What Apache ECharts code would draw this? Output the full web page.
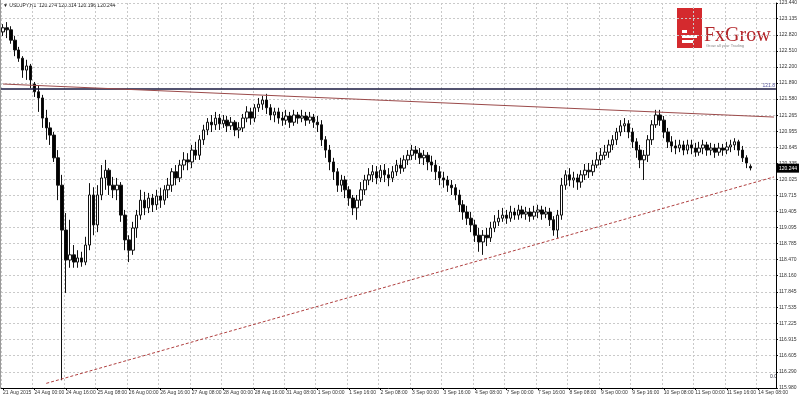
<!DOCTYPE html>
<html><head><meta charset="utf-8">
<script src="https://cdn.jsdelivr.net/npm/echarts@6.0.0/dist/echarts.min.js"></script>
<style>html,body{margin:0;padding:0;background:#fff}#c{width:800px;height:398px}</style>
</head><body><div id="c"></div><script>
const titleText = '\u25BC USDJPY,H1  120.274 120.314 120.196 120.244';
const xTickLabels = ['21 Aug 2015','24 Aug 00:00','24 Aug 16:00','25 Aug 08:00','26 Aug 00:00','26 Aug 16:00','27 Aug 08:00','28 Aug 00:00','28 Aug 16:00','31 Aug 08:00','1 Sep 00:00','1 Sep 16:00','2 Sep 08:00','3 Sep 00:00','3 Sep 16:00','4 Sep 08:00','7 Sep 00:00','7 Sep 16:00','8 Sep 08:00','9 Sep 00:00','9 Sep 16:00','10 Sep 08:00','11 Sep 00:00','11 Sep 16:00','14 Sep 08:00'];
const yTickLabels = ['115.980','116.290','116.605','116.915','117.225','117.535','117.845','118.160','118.470','118.785','119.095','119.405','119.715','120.025','120.335','120.645','120.955','121.265','121.580','121.890','122.200','122.510','122.820','123.135','123.440'];
const opens = [122.88,122.96,122.92,122.72,122.53,122.37,122.14,122.22,121.87,121.72,
121.60,121.21,121.02,120.88,120.44,119.91,119.04,118.46,118.56,118.42,
118.50,118.42,118.75,119.72,119.14,119.72,120.05,120.20,119.91,119.82,
119.91,119.33,118.85,118.65,119.08,119.33,119.62,119.47,119.66,119.53,
119.70,119.62,119.82,119.91,120.17,120.05,120.30,120.40,120.36,120.59,
120.49,120.79,120.98,121.13,121.08,121.21,121.10,121.17,121.06,121.13,
120.98,121.02,121.21,121.33,121.21,121.41,121.48,121.56,121.41,121.27,
121.33,121.21,121.17,121.25,121.13,121.27,121.21,121.25,121.17,121.23,
121.13,121.08,120.79,120.59,120.36,120.17,119.91,120.01,119.82,119.66,
119.47,119.62,119.82,120.01,120.11,120.17,120.05,120.20,120.11,120.05,
120.17,120.30,120.24,120.40,120.49,120.59,120.53,120.44,120.49,120.36,
120.30,120.17,120.05,120.01,119.91,119.86,119.72,119.53,119.39,119.27,
119.14,118.94,118.81,118.94,118.89,119.08,119.20,119.27,119.33,119.27,
119.39,119.33,119.43,119.35,119.39,119.31,119.39,119.43,119.35,119.39,
119.24,119.04,119.33,119.91,120.11,120.01,120.05,119.97,120.11,120.20,
120.17,120.30,120.40,120.49,120.55,120.69,120.79,120.94,121.06,121.10,
120.94,120.75,120.59,120.40,120.49,120.79,121.08,121.27,121.17,120.94,
120.75,120.67,120.63,120.69,120.59,120.69,120.63,120.55,120.63,120.69,
120.59,120.63,120.55,120.63,120.59,120.65,120.69,120.75,120.59,120.44,
120.274];
const closes = [122.96,122.92,122.72,122.53,122.37,122.14,122.22,121.95,121.72,121.60,
121.21,121.02,120.88,120.44,119.91,119.04,118.46,118.56,118.42,118.50,
118.42,118.75,119.72,119.14,119.72,120.05,120.20,119.91,119.82,119.91,
119.33,118.85,118.65,119.08,119.33,119.62,119.47,119.66,119.53,119.70,
119.62,119.82,119.91,120.17,120.05,120.30,120.40,120.36,120.59,120.49,
120.79,120.98,121.13,121.08,121.21,121.10,121.17,121.06,121.13,120.98,
121.02,121.21,121.33,121.21,121.41,121.48,121.56,121.41,121.27,121.33,
121.21,121.17,121.25,121.13,121.27,121.21,121.25,121.17,121.23,121.13,
121.08,120.79,120.59,120.36,120.17,119.91,120.01,119.82,119.66,119.47,
119.62,119.82,120.01,120.11,120.17,120.05,120.20,120.11,120.05,120.17,
120.30,120.24,120.40,120.49,120.59,120.53,120.44,120.49,120.36,120.30,
120.17,120.05,120.01,119.91,119.86,119.72,119.53,119.39,119.27,119.14,
118.94,118.81,118.94,118.89,119.08,119.20,119.27,119.33,119.27,119.39,
119.33,119.43,119.35,119.39,119.31,119.39,119.43,119.35,119.39,119.24,
119.04,119.33,119.91,120.11,120.01,120.05,119.97,120.11,120.20,120.17,
120.30,120.40,120.49,120.55,120.69,120.79,120.94,121.06,121.10,120.94,
120.75,120.59,120.40,120.49,120.79,121.08,121.27,121.17,120.94,120.75,
120.67,120.63,120.69,120.59,120.69,120.63,120.55,120.63,120.69,120.59,
120.63,120.55,120.63,120.59,120.65,120.69,120.75,120.59,120.44,120.34,
120.244];
const lows = [122.80,122.76,122.65,122.41,122.30,121.99,121.95,121.79,121.62,121.33,
121.02,120.79,120.69,120.36,119.62,116.13,117.82,118.31,118.31,118.31,
118.33,118.36,118.65,118.94,119.00,119.62,119.82,119.72,119.66,119.62,
119.20,118.65,118.42,118.56,118.89,119.24,119.33,119.37,119.39,119.43,
119.47,119.53,119.66,119.78,119.91,119.97,120.20,120.20,120.24,120.40,
120.40,120.69,120.88,120.94,120.98,120.98,121.02,120.94,120.98,120.86,
120.82,120.94,121.13,121.08,121.13,121.33,121.37,121.29,121.17,121.13,
121.10,121.06,121.08,121.02,121.06,121.10,121.13,121.06,121.10,121.02,
120.94,120.67,120.44,120.20,120.01,119.78,119.78,119.66,119.51,119.33,
119.24,119.51,119.72,119.91,119.97,119.93,119.97,119.97,119.89,119.97,
120.09,120.13,120.17,120.30,120.40,120.40,120.32,120.30,120.20,120.17,
120.01,119.91,119.86,119.78,119.72,119.62,119.39,119.24,119.14,119.00,
118.81,118.62,118.56,118.73,118.81,119.00,119.12,119.20,119.16,119.20,
119.24,119.24,119.27,119.24,119.20,119.24,119.27,119.24,119.27,119.12,
118.93,118.89,119.24,119.82,119.89,119.86,119.82,119.86,120.01,120.05,
120.09,120.24,120.30,120.40,120.44,120.59,120.69,120.86,120.94,120.82,
120.63,120.44,120.24,120.01,120.36,120.69,121.02,121.06,120.82,120.63,
120.55,120.51,120.55,120.49,120.51,120.51,120.46,120.48,120.51,120.48,
120.49,120.44,120.48,120.48,120.51,120.55,120.59,120.48,120.36,120.24,
120.196];
const highs = [123.03,123.07,122.99,122.80,122.59,122.41,122.34,122.26,121.91,121.85,
121.66,121.37,121.13,120.94,120.59,120.11,119.37,119.24,118.75,118.65,
118.62,118.91,119.95,119.87,119.91,120.30,120.40,120.24,120.07,120.05,
119.97,119.43,118.94,119.20,119.43,119.82,119.78,119.76,119.74,119.82,
119.86,119.91,120.05,120.24,120.30,120.40,120.55,120.53,120.69,120.75,
120.88,121.08,121.21,121.27,121.33,121.29,121.27,121.25,121.23,121.17,
121.13,121.29,121.44,121.41,121.48,121.60,121.64,121.68,121.48,121.41,
121.41,121.33,121.37,121.33,121.37,121.33,121.37,121.33,121.33,121.29,
121.25,121.17,120.86,120.69,120.44,120.24,120.11,120.09,119.89,119.72,
119.72,119.97,120.11,120.24,120.30,120.28,120.30,120.32,120.24,120.28,
120.40,120.44,120.49,120.59,120.69,120.67,120.63,120.59,120.55,120.48,
120.40,120.28,120.17,120.09,120.01,119.93,119.82,119.62,119.51,119.39,
119.24,119.08,119.04,119.08,119.20,119.33,119.43,119.47,119.43,119.51,
119.47,119.53,119.51,119.49,119.47,119.51,119.53,119.51,119.49,119.47,
119.31,119.43,120.05,120.20,120.24,120.17,120.13,120.20,120.32,120.34,
120.40,120.55,120.63,120.69,120.79,120.88,121.02,121.17,121.21,121.17,
121.02,120.82,120.69,120.59,120.88,121.17,121.37,121.37,121.25,121.02,
120.86,120.79,120.79,120.77,120.79,120.79,120.73,120.75,120.79,120.75,
120.73,120.71,120.73,120.71,120.75,120.79,120.82,120.79,120.67,120.49,
120.314];
const levelLine = 121.775;
const levelTag = '121.8';
const resistance = [[0, 121.87], [196, 121.23]];
const support = [[11, 116.07], [196, 120.07]];
const lastPrice = 120.244;
const lastPriceText = '120.244';
const fibTag = '0.0';
const categoryCount = 197;
const labelEvery = 8;

const categories = Array.from({length: categoryCount}, (_, i) => String(i));
const candles = opens.map((o, i) => [o, closes[i], lows[i], highs[i]]);
const yTicks = yTickLabels.map(Number);
const yMin = yTicks[0], yMax = yTicks[yTicks.length - 1];
const fontFam = '"Liberation Sans", Arial, sans-serif';
const gridStyle = {color: '#c9c9c9', type: [2, 2], width: 1};

const chart = echarts.init(document.getElementById('c'), null, {renderer: 'canvas'});
chart.setOption({
  animation: false,
  backgroundColor: '#ffffff',
  grid: {left: 1, right: 22, top: 3, bottom: 10, containLabel: false},
  xAxis: {
    type: 'category', data: categories, boundaryGap: true,
    axisLine: {show: true, lineStyle: {color: '#000', width: 1}},
    axisTick: {show: true, alignWithLabel: true, interval: i => i % labelEvery === 0, length: 2, lineStyle: {color: '#000'}},
    axisLabel: {show: true, interval: i => i % labelEvery === 0, formatter: (v, i) => xTickLabels[i / labelEvery] || '',
      align: 'left', fontSize: 5, color: '#333', margin: 2, fontFamily: fontFam},
    splitLine: {show: true, interval: i => i % labelEvery === 0, lineStyle: gridStyle}
  },
  yAxis: {
    type: 'value', position: 'right', min: yMin, max: yMax, interval: (yMax - yMin) / 24,
    axisLine: {show: true, lineStyle: {color: '#000', width: 1}},
    axisTick: {show: true, length: 2, customValues: yTicks, lineStyle: {color: '#000'}},
    axisLabel: {show: true, customValues: yTicks, fontSize: 5, color: '#333', margin: 3, fontFamily: fontFam,
      formatter: v => { let k = 0, d = 1e9; yTicks.forEach((t, j) => { if (Math.abs(t - v) < d) { d = Math.abs(t - v); k = j; } }); return yTickLabels[k]; }},
    splitLine: {show: true, lineStyle: gridStyle}
  },
  series: [{
    type: 'candlestick', data: candles, barWidth: 3,
    itemStyle: {color: '#ffffff', color0: '#000000', borderColor: '#111', borderColor0: '#111', borderWidth: 1},
    markLine: {
      silent: true, symbol: ['none', 'none'], animation: false,
      data: [
        {yAxis: levelLine, lineStyle: {color: '#1a1a40', width: 1.6, type: 'solid'},
          label: {show: true, position: 'insideEndTop', formatter: levelTag, fontSize: 5, color: '#5a5aa0', distance: 1, fontFamily: fontFam}},
        [{coord: resistance[0], lineStyle: {color: '#9b4a4a', width: 1, type: 'solid'}, label: {show: false}}, {coord: resistance[1]}],
        [{coord: support[0], lineStyle: {color: '#b04040', width: 1, type: [3, 2]}, label: {show: false}}, {coord: support[1]}],
        {yAxis: lastPrice, lineStyle: {color: 'rgba(0,0,0,0)', width: 0},
          label: {show: true, position: 'end', formatter: lastPriceText, backgroundColor: '#000', color: '#fff', fontSize: 5, padding: [2, 2], distance: 1, fontFamily: fontFam}}
      ]
    }
  }],
  graphic: [
    {type: 'line', shape: {x1: 0.5, y1: 0, x2: 0.5, y2: 388}, style: {stroke: '#999', lineWidth: 1}},
    {type: 'rect', left: 677, top: 8, shape: {width: 25, height: 40}, style: {fill: '#d42a2e'}},
    {type: 'rect', left: 682, top: 30, shape: {width: 5, height: 3}, style: {fill: '#fff'}},
    {type: 'rect', left: 682, top: 35, shape: {width: 15, height: 3}, style: {fill: '#fff'}},
    {type: 'rect', left: 682, top: 40, shape: {width: 11, height: 3}, style: {fill: '#fff'}},
    {type: 'text', left: 704, top: 26, style: {text: 'FxGrow', font: '20px "Liberation Serif", "DejaVu Serif", serif', fill: '#b3262b'}},
    {type: 'text', left: 706, top: 44, style: {text: 'Grow all your Trading', font: '4px ' + fontFam, fill: '#888'}},
    {type: 'text', left: 3, top: 3, style: {text: titleText, font: '5px ' + fontFam, fill: '#222'}},
    {type: 'text', left: 770, top: 374, style: {text: fibTag, font: '5px ' + fontFam, fill: '#334'}}
  ]
});
</script></body></html>
